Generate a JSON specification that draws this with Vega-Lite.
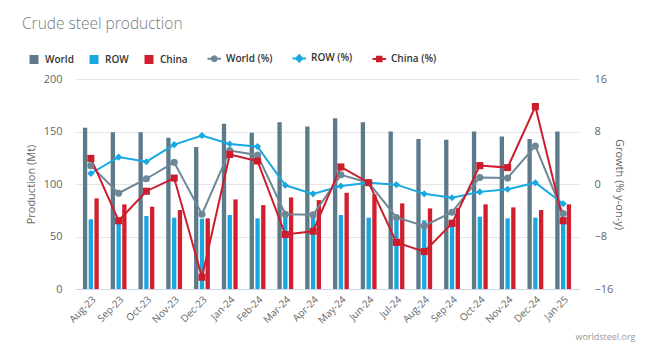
{
  "$schema": "https://vega.github.io/schema/vega-lite/v6.json",
  "autosize": {"type": "none"},
  "padding": {"left": 75, "top": 79, "right": 67, "bottom": 69},
  "width": 504,
  "height": 210,
  "background": "white",
  "title": {
    "text": "Crude steel production",
    "anchor": "start",
    "frame": "group",
    "font": "Open Sans",
    "fontSize": 15.5,
    "fontWeight": 300,
    "color": "#6f7d89",
    "dx": -53,
    "dy": -17
  },
  "config": {
    "view": {"stroke": null},
    "font": "Open Sans",
    "axis": {"labelFont": "Open Sans", "titleFont": "Open Sans", "labelColor": "#666666", "titleColor": "#666666", "titleFontWeight": "normal"}
  },
  "datasets": {
    "bars": [
      {"month": "Aug-23", "series": "World", "value": 153.5},
      {"month": "Aug-23", "series": "ROW", "value": 66.4},
      {"month": "Aug-23", "series": "China", "value": 86.3},
      {"month": "Sep-23", "series": "World", "value": 149.4},
      {"month": "Sep-23", "series": "ROW", "value": 67.0},
      {"month": "Sep-23", "series": "China", "value": 80.6},
      {"month": "Oct-23", "series": "World", "value": 149.4},
      {"month": "Oct-23", "series": "ROW", "value": 69.5},
      {"month": "Oct-23", "series": "China", "value": 78.4},
      {"month": "Nov-23", "series": "World", "value": 144.0},
      {"month": "Nov-23", "series": "ROW", "value": 67.9},
      {"month": "Nov-23", "series": "China", "value": 75.2},
      {"month": "Dec-23", "series": "World", "value": 135.2},
      {"month": "Dec-23", "series": "ROW", "value": 67.0},
      {"month": "Dec-23", "series": "China", "value": 67.3},
      {"month": "Jan-24", "series": "World", "value": 157.3},
      {"month": "Jan-24", "series": "ROW", "value": 70.5},
      {"month": "Jan-24", "series": "China", "value": 85.3},
      {"month": "Feb-24", "series": "World", "value": 148.8},
      {"month": "Feb-24", "series": "ROW", "value": 67.3},
      {"month": "Feb-24", "series": "China", "value": 79.9},
      {"month": "Mar-24", "series": "World", "value": 158.9},
      {"month": "Mar-24", "series": "ROW", "value": 70.0},
      {"month": "Mar-24", "series": "China", "value": 87.2},
      {"month": "Apr-24", "series": "World", "value": 154.8},
      {"month": "Apr-24", "series": "ROW", "value": 68.0},
      {"month": "Apr-24", "series": "China", "value": 84.7},
      {"month": "May-24", "series": "World", "value": 162.7},
      {"month": "May-24", "series": "ROW", "value": 70.5},
      {"month": "May-24", "series": "China", "value": 91.6},
      {"month": "Jun-24", "series": "World", "value": 158.9},
      {"month": "Jun-24", "series": "ROW", "value": 67.9},
      {"month": "Jun-24", "series": "China", "value": 90.0},
      {"month": "Jul-24", "series": "World", "value": 150.0},
      {"month": "Jul-24", "series": "ROW", "value": 69.5},
      {"month": "Jul-24", "series": "China", "value": 81.5},
      {"month": "Aug-24", "series": "World", "value": 142.8},
      {"month": "Aug-24", "series": "ROW", "value": 65.4},
      {"month": "Aug-24", "series": "China", "value": 76.8},
      {"month": "Sep-24", "series": "World", "value": 142.2},
      {"month": "Sep-24", "series": "ROW", "value": 66.0},
      {"month": "Sep-24", "series": "China", "value": 77.0},
      {"month": "Oct-24", "series": "World", "value": 150.0},
      {"month": "Oct-24", "series": "ROW", "value": 68.9},
      {"month": "Oct-24", "series": "China", "value": 80.6},
      {"month": "Nov-24", "series": "World", "value": 145.3},
      {"month": "Nov-24", "series": "ROW", "value": 67.3},
      {"month": "Nov-24", "series": "China", "value": 77.7},
      {"month": "Dec-24", "series": "World", "value": 142.8},
      {"month": "Dec-24", "series": "ROW", "value": 67.9},
      {"month": "Dec-24", "series": "China", "value": 75.2},
      {"month": "Jan-25", "series": "World", "value": 150.0},
      {"month": "Jan-25", "series": "ROW", "value": 66.0},
      {"month": "Jan-25", "series": "China", "value": 80.6}
    ],
    "growth": [
      {"month": "Aug-23", "series": "World (%)", "growth": 2.8},
      {"month": "Sep-23", "series": "World (%)", "growth": -1.4},
      {"month": "Oct-23", "series": "World (%)", "growth": 0.8},
      {"month": "Nov-23", "series": "World (%)", "growth": 3.3},
      {"month": "Dec-23", "series": "World (%)", "growth": -4.6},
      {"month": "Jan-24", "series": "World (%)", "growth": 5.1},
      {"month": "Feb-24", "series": "World (%)", "growth": 4.4},
      {"month": "Mar-24", "series": "World (%)", "growth": -4.6},
      {"month": "Apr-24", "series": "World (%)", "growth": -4.7},
      {"month": "May-24", "series": "World (%)", "growth": 1.4},
      {"month": "Jun-24", "series": "World (%)", "growth": 0.2},
      {"month": "Jul-24", "series": "World (%)", "growth": -5.1},
      {"month": "Aug-24", "series": "World (%)", "growth": -6.4},
      {"month": "Sep-24", "series": "World (%)", "growth": -4.3},
      {"month": "Oct-24", "series": "World (%)", "growth": 1.0},
      {"month": "Nov-24", "series": "World (%)", "growth": 0.9},
      {"month": "Dec-24", "series": "World (%)", "growth": 5.8},
      {"month": "Jan-25", "series": "World (%)", "growth": -4.5},
      {"month": "Aug-23", "series": "ROW (%)", "growth": 1.6},
      {"month": "Sep-23", "series": "ROW (%)", "growth": 4.1},
      {"month": "Oct-23", "series": "ROW (%)", "growth": 3.4},
      {"month": "Nov-23", "series": "ROW (%)", "growth": 6.0},
      {"month": "Dec-23", "series": "ROW (%)", "growth": 7.4},
      {"month": "Jan-24", "series": "ROW (%)", "growth": 6.1},
      {"month": "Feb-24", "series": "ROW (%)", "growth": 5.7},
      {"month": "Mar-24", "series": "ROW (%)", "growth": -0.2},
      {"month": "Apr-24", "series": "ROW (%)", "growth": -1.5},
      {"month": "May-24", "series": "ROW (%)", "growth": -0.3},
      {"month": "Jun-24", "series": "ROW (%)", "growth": 0.2},
      {"month": "Jul-24", "series": "ROW (%)", "growth": -0.1},
      {"month": "Aug-24", "series": "ROW (%)", "growth": -1.5},
      {"month": "Sep-24", "series": "ROW (%)", "growth": -2.1},
      {"month": "Oct-24", "series": "ROW (%)", "growth": -1.2},
      {"month": "Nov-24", "series": "ROW (%)", "growth": -0.8},
      {"month": "Dec-24", "series": "ROW (%)", "growth": 0.2},
      {"month": "Jan-25", "series": "ROW (%)", "growth": -3.0},
      {"month": "Aug-23", "series": "China (%)", "growth": 3.9},
      {"month": "Sep-23", "series": "China (%)", "growth": -5.6},
      {"month": "Oct-23", "series": "China (%)", "growth": -1.1},
      {"month": "Nov-23", "series": "China (%)", "growth": 0.9},
      {"month": "Dec-23", "series": "China (%)", "growth": -14.2},
      {"month": "Jan-24", "series": "China (%)", "growth": 4.5},
      {"month": "Feb-24", "series": "China (%)", "growth": 3.5},
      {"month": "Mar-24", "series": "China (%)", "growth": -7.7},
      {"month": "Apr-24", "series": "China (%)", "growth": -7.2},
      {"month": "May-24", "series": "China (%)", "growth": 2.6},
      {"month": "Jun-24", "series": "China (%)", "growth": 0.2},
      {"month": "Jul-24", "series": "China (%)", "growth": -8.9},
      {"month": "Aug-24", "series": "China (%)", "growth": -10.3},
      {"month": "Sep-24", "series": "China (%)", "growth": -6.0},
      {"month": "Oct-24", "series": "China (%)", "growth": 2.8},
      {"month": "Nov-24", "series": "China (%)", "growth": 2.5},
      {"month": "Dec-24", "series": "China (%)", "growth": 11.8},
      {"month": "Jan-25", "series": "China (%)", "growth": -5.6}
    ]
  },
  "encoding": {
    "x": {
      "field": "month",
      "type": "nominal",
      "sort": null,
      "scale": {"paddingInner": 0.43, "paddingOuter": 0.285},
      "axis": {
        "labelAngle": -45,
        "labelFontSize": 10,
        "labelPadding": 5,
        "ticks": false,
        "domainColor": "#ccd6eb",
        "title": "worldsteel.org",
        "titleFontSize": 9,
        "titleColor": "#999999",
        "titleX": 560,
        "titleY": 47,
        "titleAlign": "right",
        "titleBaseline": "middle"
      }
    },
    "color": {
      "field": "series",
      "type": "nominal",
      "scale": {
        "domain": ["World", "ROW", "China", "World (%)", "ROW (%)", "China (%)"],
        "range": ["#5d7a8b", "#1aa7de", "#d01f2f", "#6d8796", "#17a9e1", "#cc1d2d"]
      },
      "legend": {
        "orient": "none",
        "legendX": -46,
        "legendY": -26,
        "direction": "horizontal",
        "title": null,
        "symbolSize": 81,
        "symbolType": "square",
        "labelFont": "Open Sans",
        "labelFontSize": 10,
        "labelFontWeight": 600,
        "labelColor": "#333333",
        "labelOffset": 6,
        "columnPadding": 15,
        "encode": {
          "symbols": {
            "update": {
              "shape": {"signal": "datum.value == 'World (%)' ? 'M-1,0L2,0M0.5,-0.55L0.9,-0.4L1.05,0L0.9,0.4L0.5,0.55L0.1,0.4L-0.05,0L0.1,-0.4Z' : datum.value == 'ROW (%)' ? 'M-1,0L2,0M0.5,-0.7L1.2,0L0.5,0.7L-0.2,0Z' : datum.value == 'China (%)' ? 'M-1,0L2,0M0,-0.5L1,-0.5L1,0.5L0,0.5Z' : 'square'"},
              "strokeWidth": {"signal": "datum.value == 'World (%)' || datum.value == 'ROW (%)' || datum.value == 'China (%)' ? 2 : 0"}
            }
          },
          "labels": {
            "update": {
              "dx": {"signal": "datum.value == 'World (%)' || datum.value == 'ROW (%)' || datum.value == 'China (%)' ? 3 : 0"}
            }
          }
        }
      }
    }
  },
  "layer": [
    {
      "data": {"name": "bars"},
      "mark": {"type": "bar"},
      "encoding": {
        "xOffset": {
          "field": "series",
          "type": "nominal",
          "scale": {"domain": ["World", "ROW", "China"], "paddingInner": 0.25}
        },
        "y": {
          "field": "value",
          "type": "quantitative",
          "scale": {"domain": [0, 200]},
          "axis": {
            "orient": "left",
            "values": [0, 50, 100, 150, 200],
            "grid": true,
            "gridColor": "#e6e6e6",
            "domain": false,
            "ticks": false,
            "labelFontSize": 11,
            "labelPadding": 13,
            "title": "Production (Mt)",
            "titleFontSize": 11,
            "titlePadding": 7
          }
        }
      }
    },
    {
      "data": {"name": "growth"},
      "encoding": {
        "y": {
          "field": "growth",
          "type": "quantitative",
          "scale": {"domain": [-16, 16]},
          "axis": {
            "orient": "right",
            "values": [-16, -8, 0, 8, 16],
            "grid": false,
            "domain": false,
            "ticks": false,
            "labelFontSize": 11,
            "labelPadding": 15,
            "title": "Growth (% y-on-y)",
            "titleFontSize": 11,
            "titleAngle": 90,
            "titlePadding": 1
          }
        }
      },
      "layer": [
        {
          "mark": {"type": "line", "strokeWidth": 2}
        },
        {
          "mark": {"type": "point", "filled": true, "opacity": 1, "size": 50},
          "encoding": {
            "shape": {
              "field": "series",
              "type": "nominal",
              "scale": {"domain": ["World (%)", "ROW (%)", "China (%)"], "range": ["circle", "diamond", "square"]},
              "legend": null
            }
          }
        }
      ]
    }
  ],
  "resolve": {"scale": {"y": "independent"}}
}
